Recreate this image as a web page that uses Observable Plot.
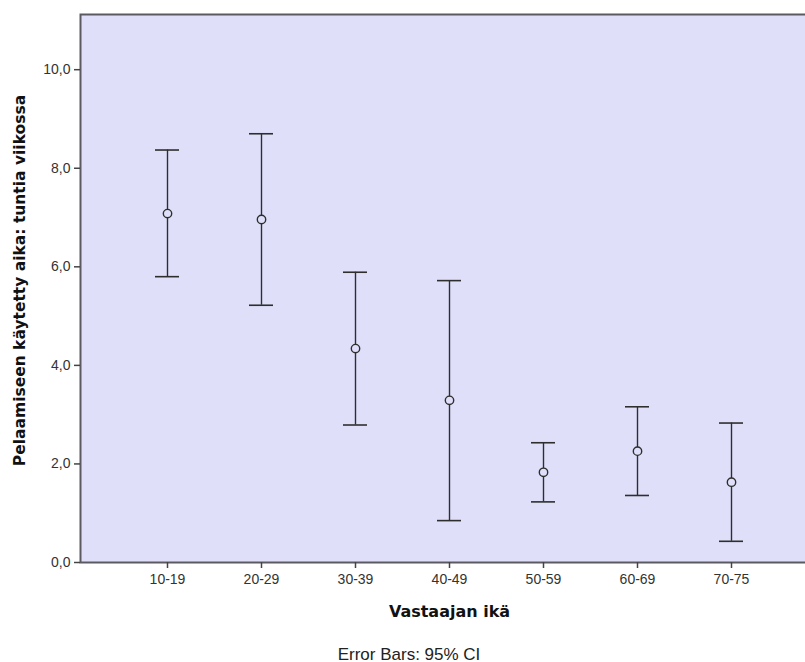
<!DOCTYPE html>
<html>
<head>
<meta charset="utf-8">
<script src="https://cdn.jsdelivr.net/npm/d3@7"></script>
<script src="https://cdn.jsdelivr.net/npm/@observablehq/plot@0.6"></script>
<style>
  html, body { margin: 0; padding: 0; background: #fff; overflow: hidden; }
  #chart { width: 805px; height: 662px; overflow: hidden; }
  #chart svg { display: block; max-width: none !important; }
</style>
</head>
<body>
<div id="chart"></div>
<script>
const ageGroups = ["10-19", "20-29", "30-39", "40-49", "50-59", "60-69", "70-75"];
const means     = [7.08, 6.96, 4.34, 3.29, 1.83, 2.26, 1.63];
const lower     = [5.80, 5.22, 2.79, 0.85, 1.23, 1.36, 0.43];
const upper     = [8.37, 8.70, 5.89, 5.72, 2.43, 3.16, 2.83];
const yTicks    = [0, 2, 4, 6, 8, 10];
const yLabel    = "Pelaamiseen käytetty aika: tuntia viikossa";
const xLabel    = "Vastaajan ikä";
const caption   = "Error Bars: 95% CI";

const data = ageGroups.map((g, i) => ({group: g, mean: means[i], lo: lower[i], hi: upper[i]}));
const ink = "#2e2e2e";

const chart = Plot.plot({
  width: 820,
  height: 662,
  marginLeft: 80,
  marginRight: 2,
  marginTop: 14,
  marginBottom: 100,
  style: {background: "#fff", maxWidth: "none"},
  x: {type: "band", domain: ageGroups, range: [153, 745], paddingInner: 0.747, paddingOuter: 0},
  y: {domain: [0, 11.12]},
  marks: [
    Plot.frame({fill: "#dfdffa", stroke: "#5a5a60", strokeWidth: 2}),
    Plot.axisY({ticks: yTicks, tickFormat: d => d.toFixed(1).replace(".", ","), tickSize: 6, tickPadding: 4,
      fontSize: 14, fontFamily: "Liberation Sans, Arial, sans-serif", stroke: "#444", strokeWidth: 1.5, fill: "#333", label: null}),
    Plot.axisX({tickSize: 6, tickPadding: 6, fontSize: 14, fontFamily: "Liberation Sans, Arial, sans-serif",
      stroke: "#444", strokeWidth: 1.5, fill: "#333", label: null}),
    Plot.ruleX(data, {x: "group", y1: "lo", y2: "hi", stroke: ink, strokeWidth: 1.4}),
    Plot.tickY(data, {x: "group", y: "hi", stroke: ink, strokeWidth: 1.6}),
    Plot.tickY(data, {x: "group", y: "lo", stroke: ink, strokeWidth: 1.6}),
    Plot.dot(data, {x: "group", y: "mean", r: 4.2, stroke: ink, strokeWidth: 1.4, fill: "#dfdffa"}),
    Plot.text([yLabel], {frameAnchor: "left", textAnchor: "middle", rotate: -90, dx: -60, dy: -8, fontSize: 15.5, fontWeight: "bold",
      fontFamily: "DejaVu Sans, sans-serif", fill: "#111"}),
    Plot.text([xLabel], {frameAnchor: "bottom", textAnchor: "middle", lineAnchor: "bottom", dy: 54, fontSize: 16, fontWeight: "bold",
      fontFamily: "DejaVu Sans, sans-serif", fill: "#111"}),
    Plot.text([caption], {frameAnchor: "bottom", textAnchor: "middle", lineAnchor: "bottom", dx: -40.5, dy: 97, fontSize: 17,
      fontFamily: "Liberation Sans, Arial, sans-serif", fill: "#222"})
  ]
});
document.getElementById("chart").appendChild(chart);
</script>
</body>
</html>
